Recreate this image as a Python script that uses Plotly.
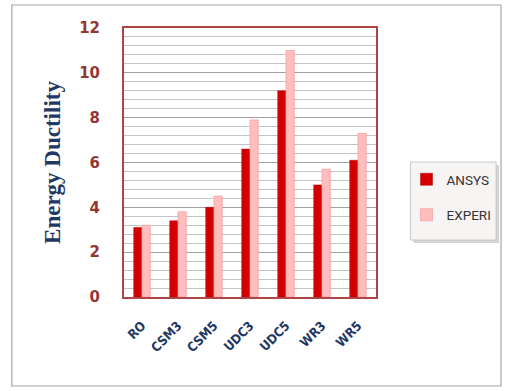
import plotly.graph_objects as go

specimens = ["RO", "CSM3", "CSM5", "UDC3", "UDC5", "WR3", "WR5"]
ansys = [3.1, 3.4, 4.0, 6.6, 9.2, 5.0, 6.1]
experi = [3.2, 3.8, 4.5, 7.9, 11.0, 5.7, 7.3]
y_ticks = [0, 2, 4, 6, 8, 10, 12]

# plot-area geometry in pixels
W, H = 509, 391
L, R, T, B = 124, 129, 28, 94
pw, ph = W - L - R, H - T - B


def px(x):
    return (x - L) / pw


def py(y):
    return (H - B - y) / ph


fig = go.Figure()
fig.add_trace(go.Bar(
    x=specimens, y=ansys, name="ANSYS",
    marker=dict(color="#D40000", line=dict(color="#B00000", width=0.5)),
    legendgroup="a",
))
fig.add_trace(go.Bar(
    x=specimens, y=experi, name="EXPERI",
    marker=dict(color="#FFBDBD", line=dict(color="#F4A3A3", width=0.8)),
    legendgroup="b",
))

shapes = [
    # outer chart frame
    dict(type="rect", xref="paper", yref="paper",
         x0=px(10), x1=px(507), y0=py(386), y1=py(5),
         line=dict(color="#A6A6A6", width=1.2), fillcolor="rgba(0,0,0,0)", layer="below"),
    # legend shadow and box
    dict(type="rect", xref="paper", yref="paper",
         x0=px(418), x1=px(505), y0=py(243), y1=py(165),
         line=dict(width=0), fillcolor="#D4D4D4", layer="below"),
    dict(type="rect", xref="paper", yref="paper",
         x0=px(415), x1=px(502), y0=py(240), y1=py(162),
         line=dict(color="#C8C8C8", width=1), fillcolor="#F7F4F4", layer="below"),
]

fig.update_layout(
    width=W, height=H,
    margin=dict(l=L, r=R, t=T, b=B),
    paper_bgcolor="white", plot_bgcolor="white",
    barmode="group", bargap=0.54, bargroupgap=0.0,
    shapes=shapes,
    showlegend=True,
    legend=dict(
        x=px(411), y=py(164), xanchor="left", yanchor="top",
        bgcolor="rgba(0,0,0,0)", borderwidth=0,
        font=dict(family="Roboto", size=13.5, color="#333333"),
        tracegroupgap=15, itemwidth=30,
    ),
    xaxis=dict(
        showline=True, mirror=True, linecolor="#B04545", linewidth=2,
        tickangle=-45, ticks="", ticklabelstandoff=14,
        tickfont=dict(family="DejaVu Sans Condensed, DejaVu Sans", size=13, color="#1F3864", weight="bold"),
        showgrid=False,
    ),
    yaxis=dict(
        range=[0, 12], tickvals=y_ticks,
        showline=True, mirror=True, linecolor="#B04545", linewidth=2,
        ticks="", ticklabelstandoff=19,
        tickfont=dict(family="DejaVu Sans", size=15, color="#943634", weight="bold"),
        showgrid=True, gridcolor="#A0A0A0", gridwidth=1,
        minor=dict(dtick=0.4, showgrid=True, gridcolor="#C4C4C4", gridwidth=1),
        zeroline=False,
        title=dict(text="Energy Ductility", standoff=12,
                   font=dict(family="Liberation Serif", size=23, color="#1F3864", weight="bold")),
    ),
)

fig.write_html("out.html")
